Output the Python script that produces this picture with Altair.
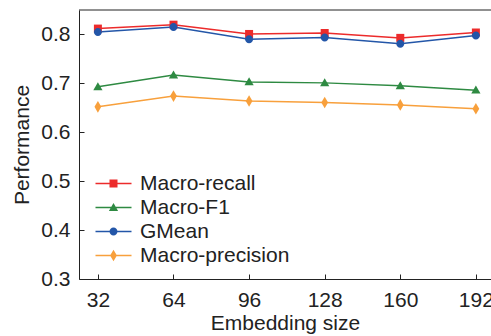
import altair as alt
import pandas as pd

sizes = [32, 64, 96, 128, 160, 192]
macro_recall = [0.812, 0.820, 0.801, 0.803, 0.793, 0.804]
macro_f1 = [0.693, 0.717, 0.703, 0.701, 0.695, 0.686]
gmean = [0.805, 0.815, 0.790, 0.794, 0.781, 0.798]
macro_precision = [0.652, 0.674, 0.664, 0.661, 0.656, 0.648]

series = ["Macro-recall", "Macro-F1", "GMean", "Macro-precision"]
colors = ["#ec2b2b", "#2e8a42", "#2356a8", "#f8a03c"]
y_ticks = [0.3, 0.4, 0.5, 0.6, 0.7, 0.8]

marker_paths = [
    "M-1,-1H1V1H-1Z",
    "M0,-1.15L1.15,0.85H-1.15Z",
    "M-1,0A1,1 0 1,1 1,0A1,1 0 1,1 -1,0Z",
    "M0,-1.45L0.85,0L0,1.45L-0.85,0Z",
]
bar = "M-4.5,-0.19H4.5V0.19H-4.5Z"
legend_paths = [bar + p for p in marker_paths]

rows = []
for name, vals in zip(series, [macro_recall, macro_f1, gmean, macro_precision]):
    for s, v in zip(sizes, vals):
        rows.append({"size": s, "value": v, "series": name})
df = pd.DataFrame(rows)

FONT = "Liberation Sans"
W, H = 412, 269

x = alt.X("size:Q", scale=alt.Scale(domain=[24, 198.4], nice=False, zero=False),
          axis=alt.Axis(values=sizes, title="Embedding size", grid=False,
                        tickSize={"expr": "-5"}, labelPadding=15, titlePadding=2))
y = alt.Y("value:Q", scale=alt.Scale(domain=[0.3, 0.85], nice=False, zero=False),
          axis=alt.Axis(values=y_ticks, format=".1f", title="Performance", grid=False,
                        tickSize={"expr": "-5"}, labelPadding=14, titlePadding=8))

color_nolegend = alt.Color("series:N", scale=alt.Scale(domain=series, range=colors), legend=None)

base = alt.Chart(df)

lines = base.mark_line(strokeWidth=1.5).encode(x=x, y=y, color=color_nolegend)

points = base.mark_point(filled=True, opacity=1, size=64).encode(
    x=x, y=y, color=color_nolegend,
    shape=alt.Shape("series:N", scale=alt.Scale(domain=series, range=marker_paths), legend=None),
)

leg = alt.Legend(title=None, orient="none", legendX=24, legendY=163, symbolOpacity=1,
                 symbolSize=64, labelFont=FONT, labelFontSize=21, labelColor="#222",
                 labelOffset=16, rowPadding=2, padding=0, symbolStrokeWidth=0)

legend_layer = base.mark_point(filled=True, opacity=0, size=64).encode(
    x=x, y=y,
    color=alt.Color("series:N", scale=alt.Scale(domain=series, range=colors), legend=leg),
    shape=alt.Shape("series:N", scale=alt.Scale(domain=series, range=legend_paths), legend=leg),
)

top_border = alt.Chart(pd.DataFrame({"a": [0]})).mark_rule(color="#222", strokeWidth=1).encode(
    x=alt.value(0), x2=alt.value(W), y=alt.value(0)
)

chart = alt.layer(lines, points, legend_layer, top_border).resolve_scale(
    color="independent", shape="independent"
).properties(
    width=W, height=H,
    autosize=alt.AutoSizeParams(type="none"),
    padding={"left": 79, "top": 10, "right": 0, "bottom": 57},
).configure_view(stroke=None).configure_axis(
    labelFont=FONT, labelFontSize=21, labelColor="#222", titleFont=FONT, titleFontSize=21,
    titleColor="#222", titleFontWeight="normal", domainColor="#222", tickColor="#222",
    domainWidth=1, tickWidth=1,
)

chart.save("out.html", embed_options={"renderer": "svg", "actions": False})
